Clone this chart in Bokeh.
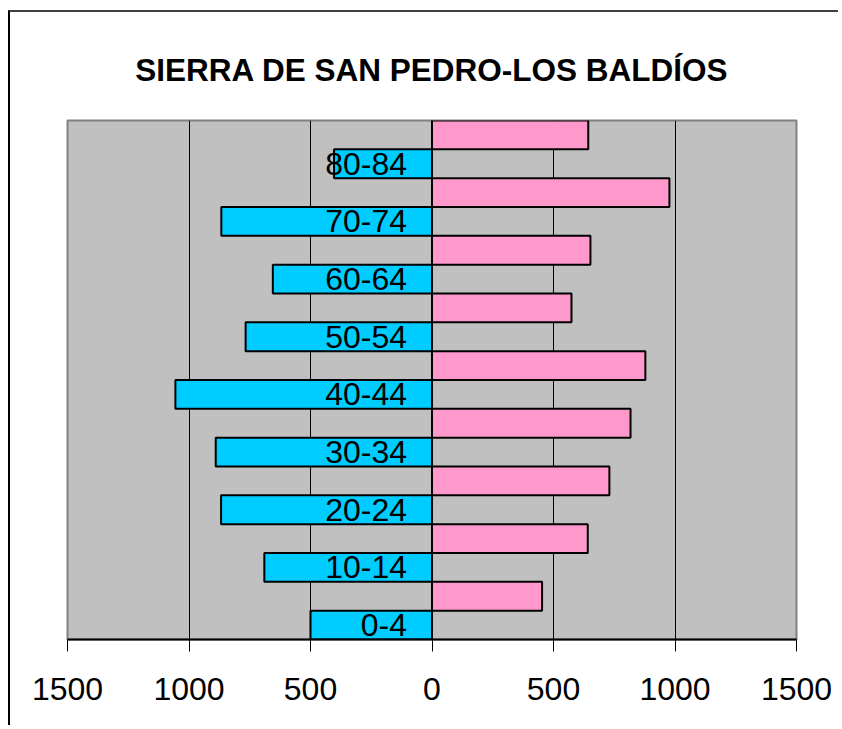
from bokeh.plotting import figure
from bokeh.models import FactorRange, Range1d, Span, FixedTicker, CustomJSTickFormatter, ColumnDataSource
from bokeh.core.properties import value
from bokeh.embed import file_html
from bokeh.resources import INLINE

# Age groups (rows, bottom to top)
groups = ["0-4", "5-9", "10-14", "15-19", "20-24", "25-29", "30-34", "35-39",
          "40-44", "45-49", "50-54", "55-59", "60-64", "65-69", "70-74", "75-79",
          "80-84", "85+"]

# Left (blue) series rows and values
hombres_groups = ["0-4", "10-14", "20-24", "30-34", "40-44", "50-54", "60-64", "70-74", "80-84"]
hombres = [500, 690, 868, 890, 1056, 767, 655, 867, 403]

# Right (pink) series rows and values
mujeres_groups = ["5-9", "15-19", "25-29", "35-39", "45-49", "55-59", "65-69", "75-79", "85+"]
mujeres = [453, 641, 730, 817, 878, 574, 652, 977, 643]

x_ticks = [-1500, -1000, -500, 0, 500, 1000, 1500]
grid_ticks = [-1000, -500, 500, 1000]

title_text = "SIERRA DE SAN PEDRO-LOS BALDÍOS"

p = figure(width=830, height=715,
           y_range=FactorRange(factors=groups, range_padding=0, factor_padding=0),
           x_range=Range1d(-1500, 1500),
           y_axis_location=None,
           output_backend="svg", toolbar_location=None,
           min_border_left=57, min_border_right=44,
           min_border_top=108, min_border_bottom=88,
           styles={"border-left": "2px solid black", "border-top": "2px solid #404040",
                   "margin-left": "8px", "margin-top": "10px"})

p.title.text = title_text
p.title.align = "center"
p.title.text_font = "Liberation Sans"
p.title.text_font_size = "31.5px"
p.title.text_font_style = "bold"
p.title.text_color = "black"
p.title.standoff = 66

p.background_fill_color = "#C0C0C0"
p.border_fill_color = "white"
p.outline_line_color = "#808080"
p.outline_line_width = 2

# grid
p.ygrid.visible = False
p.xgrid.ticker = FixedTicker(ticks=grid_ticks)
p.xgrid.grid_line_color = "black"
p.xgrid.grid_line_width = 1

# x axis
ax = p.xaxis[0]
ax.ticker = FixedTicker(ticks=x_ticks)
ax.formatter = CustomJSTickFormatter(code="return Math.abs(tick).toFixed(0);")
ax.major_label_text_font = "Liberation Sans"
ax.major_label_text_font_size = "32px"
ax.major_label_text_color = "black"
ax.major_label_standoff = 26
ax.major_tick_out = 12
ax.major_tick_in = 0
ax.major_tick_line_color = "black"
ax.minor_tick_line_color = None
ax.axis_line_color = "black"
ax.axis_line_width = 2

src_h = ColumnDataSource(dict(g=hombres_groups, left=[-v for v in hombres],
                              right=[0] * len(hombres), x=[0] * len(hombres)))
src_m = ColumnDataSource(dict(g=mujeres_groups, left=[0] * len(mujeres), right=mujeres))

p.hbar(y="g", left="left", right="right", height=1, source=src_h,
       fill_color="#00CCFF", line_color="black", line_width=2)
p.hbar(y="g", left="left", right="right", height=1, source=src_m,
       fill_color="#FF99CC", line_color="black", line_width=2)

p.add_layout(Span(location=0, dimension="height", line_color="black", line_width=2))

p.text(x="x", y="g", text="g", source=src_h, x_offset=-25,
       text_align="right", text_baseline="middle",
       text_font=value("Liberation Sans"), text_font_size="32px", text_color="black")

open("out.html", "w").write(file_html(p, INLINE))
